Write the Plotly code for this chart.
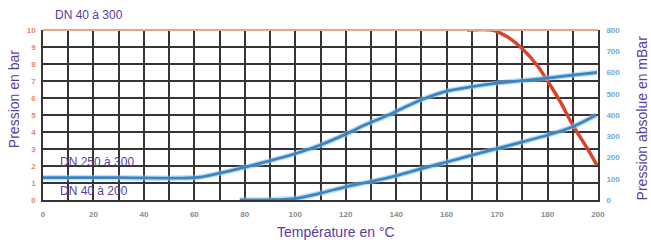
import plotly.graph_objects as go

# x axis is the drawn grid scale (22 columns of 10 units); labels as printed
x_tickvals = list(range(0, 230, 10))
x_ticklabels = ["0", "", "20", "", "40", "", "60", "", "80", "", "100", "",
                "120", "", "140", "", "160", "", "170", "", "180", "", "200"]

left_ticks = list(range(0, 11))
right_ticks = list(range(0, 900, 100))

# DN 40 à 300 (bar, left axis)
red_x = [168, 178, 184, 190, 196, 200, 205, 210, 215.5, 219.6]
red_y = [10, 10, 9.6, 8.9, 7.9, 7.0, 5.8, 4.4, 3.1, 2.05]

# DN 250 à 300 (mBar, right axis)
blue1_x = [0, 30, 54, 62, 70, 81, 91, 100.5, 110, 120, 128, 137, 144, 150.5,
           160, 170, 180, 190, 200, 210, 219.6]
blue1_y = [105, 105, 103, 107, 126, 157, 188, 220, 259, 310, 355, 400, 440, 474,
           512, 533, 550, 562, 574, 588, 600]

# DN 40 à 200 (mBar, right axis)
blue2_x = [78, 90, 100.5, 110, 120, 128, 137, 150.5, 160.5, 170.4, 180.3,
           190.2, 200.1, 210, 219.3]
blue2_y = [0, 1, 8, 32, 62, 82, 105, 149, 180, 212, 243, 274, 306, 345, 400]

PURPLE = "#5a3ca0"
FONT = "Liberation Sans, Arial, sans-serif"

fig = go.Figure()

for xs, ys in [(blue1_x, blue1_y), (blue2_x, blue2_y)]:
    fig.add_trace(go.Scatter(x=xs, y=ys, yaxis="y2", mode="lines",
                             line=dict(color="rgba(140,195,235,0.55)", width=5.5,
                                       shape="spline", smoothing=0.8),
                             hoverinfo="skip", showlegend=False, cliponaxis=False))
    fig.add_trace(go.Scatter(x=xs, y=ys, yaxis="y2", mode="lines",
                             line=dict(color="#3b86c2", width=2.8, shape="spline", smoothing=0.8),
                             showlegend=False, cliponaxis=False))

fig.add_trace(go.Scatter(x=red_x, y=red_y, mode="lines",
                         line=dict(color="#d9432a", width=3.5, shape="spline", smoothing=0.8),
                         showlegend=False, cliponaxis=False))

fig.update_layout(
    width=651, height=244,
    margin=dict(l=43, r=53, t=30, b=44),
    paper_bgcolor="white", plot_bgcolor="white",
    font=dict(family=FONT),
    xaxis=dict(range=[0, 220], tickvals=x_tickvals, ticktext=x_ticklabels,
               showgrid=True, gridcolor="#3a3333", gridwidth=1.6,
               zeroline=False, showline=True, linecolor="#3a3333", linewidth=1.6,
               mirror=False, ticks="", ticklabelstandoff=6,
               tickfont=dict(size=8, color="#8a8a8a", family=FONT, weight="bold")),
    yaxis=dict(range=[0, 10], tickvals=left_ticks,
               showgrid=True, gridcolor="#3a3333", gridwidth=1.6,
               zeroline=False, showline=True, linecolor="#3a3333", linewidth=1.6,
               ticks="", ticklabelstandoff=4,
               tickfont=dict(size=8, color="#e5876a", family=FONT, weight="bold")),
    yaxis2=dict(range=[0, 800], tickvals=right_ticks, overlaying="y", side="right",
                showgrid=False, zeroline=False, showline=True,
                linecolor="#3a3333", linewidth=1.6, ticks="", ticklabelstandoff=5,
                tickfont=dict(size=8, color="#70aad8", family=FONT, weight="bold")),
    shapes=[dict(type="line", xref="paper", yref="paper", x0=0, x1=1, y0=1, y1=1,
                 line=dict(color="#e9a58c", width=2))],
    annotations=[
        dict(text="DN 40 à 300", xref="paper", yref="paper", x=0.018, y=1.088,
             xanchor="left", yanchor="middle", showarrow=False,
             font=dict(size=12, color=PURPLE)),
        dict(text="DN 250 à 300", xref="paper", yref="paper", x=0.027, y=0.224,
             xanchor="left", yanchor="middle", showarrow=False,
             font=dict(size=12, color=PURPLE)),
        dict(text="DN 40 à 200", xref="paper", yref="paper", x=0.027, y=0.053,
             xanchor="left", yanchor="middle", showarrow=False,
             font=dict(size=12, color=PURPLE)),
        dict(text="Température en °C", xref="paper", yref="paper", x=0.528, y=-0.19,
             xanchor="center", yanchor="middle", showarrow=False,
             font=dict(size=14, color=PURPLE)),
        dict(text="Pression en bar", xref="paper", yref="paper", x=-0.052, y=0.594,
             xanchor="center", yanchor="middle", showarrow=False, textangle=-90,
             font=dict(size=14, color=PURPLE)),
        dict(text="Pression absolue en mBar", xref="paper", yref="paper", x=1.079, y=0.485,
             xanchor="center", yanchor="middle", showarrow=False, textangle=-90,
             font=dict(size=14, color=PURPLE)),
    ],
)

fig.write_html("out.html", config={"displayModeBar": False},
               post_script="document.body.style.margin='0';document.body.style.padding='0';")
